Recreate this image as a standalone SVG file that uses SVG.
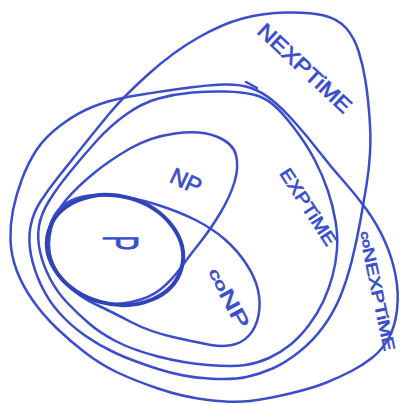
<svg xmlns="http://www.w3.org/2000/svg" width="402" height="405" viewBox="0 0 402 405">
<style>
.c{fill:none;stroke:#3a4ecb;stroke-width:2.5;stroke-linecap:round;stroke-linejoin:round}
.p{stroke-width:4;stroke:#3143b9}
.t{font-family:"Liberation Sans",Arial,sans-serif;fill:#3a4ecb;stroke:#3a4ecb;stroke-width:0.7;text-anchor:middle;dominant-baseline:central}
</style>
<rect width="402" height="405" fill="#fff"/>
<g id="coNEXPTIME">
<path class="c" d="M130,96.5 Q150,93 178.5,89 Q207,85 223.5,84.5 Q240,84 251,88 Q262,92 272,100 Q282,108 294.5,122 Q307,136 319,151.5 Q331,167 343.5,181 Q356,195 366.5,209.5 Q377,224 384.5,240.5 Q392,257 395.5,275 Q399,293 397,310 Q395,327 388.5,338.5 Q382,350 372.5,357.5 Q363,365 351.5,371 Q340,377 326.5,382.5 Q313,388 290,393.5 Q267,399 250,401 Q233,403 208,400 Q183,397 158,388.5 Q133,380 116.5,372 Q100,364 85,352.5 Q70,341 56.5,328 Q43,315 32.5,300 Q22,285 16.5,270 Q11,255 10.5,240 Q10,225 13,210 Q16,195 22,179 Q28,163 36.5,150 Q45,137 61,125 Q77,113 93.5,106.5 Q110,100 130,96.5 Z"/>
<path class="c" d="M246,82 L257,88"/>
<text class="t" font-size="16" transform="translate(377,291) rotate(78)" textLength="122" lengthAdjust="spacingAndGlyphs"><tspan font-size="12">co</tspan>NEXPTiME</text>
</g>
<g id="NEXPTIME">
<path class="c" d="M242.5,18.5 Q263,13 286.5,12.5 Q310,12 324,15.5 Q338,19 346,28 Q354,37 358.5,51 Q363,65 365.5,81 Q368,97 369.5,117 Q371,137 370,153.5 Q369,170 366.5,185 Q364,200 360.5,220 Q357,240 352,260 Q347,280 340.5,296 Q334,312 323.5,326.5 Q313,341 299,352 Q285,363 272.5,368.5 Q260,374 246.5,377 Q233,380 208,378.5 Q183,377 158,369 Q133,361 116.5,353.5 Q100,346 85,335.5 Q70,325 59,312.5 Q48,300 41,285 Q34,270 31,255 Q28,240 30.5,226.5 Q33,213 40.5,201.5 Q48,190 57.5,178 Q67,166 81,148.5 Q95,131 109,114 Q123,97 148,74.5 Q173,52 197.5,38 Q222,24 242.5,18.5 Z"/>
<text class="t" font-size="21" transform="translate(305,68) rotate(43)" textLength="120" lengthAdjust="spacingAndGlyphs">NEXPTiME</text>
</g>
<g id="EXPTIME">
<path class="c" d="M158.5,98.5 Q175,94 192.5,92.5 Q210,91 226,91.5 Q242,92 253,94.5 Q264,97 273,104.5 Q282,112 294.5,128.5 Q307,145 315,160.5 Q323,176 328,191 Q333,206 335.5,221 Q338,236 337,249.5 Q336,263 332.5,276 Q329,289 323.5,301 Q318,313 309,325 Q300,337 290,345 Q280,353 269,358 Q258,363 245.5,365 Q233,367 208,365 Q183,363 158,356.5 Q133,350 116.5,341.5 Q100,333 88.5,323 Q77,313 67,302.5 Q57,292 50,278.5 Q43,265 40,251.5 Q37,238 39,226 Q41,214 49,201 Q57,188 70,172 Q83,156 96.5,141 Q110,126 126,114.5 Q142,103 158.5,98.5 Z"/>
<text class="t" font-size="18" transform="translate(308,207) rotate(57)" textLength="88" lengthAdjust="spacingAndGlyphs">EXPTiME</text>
</g>
<g id="coNP">
<path class="c" d="M77.5,198 Q90,194 111.5,195.5 Q133,197 156.5,204.5 Q180,212 196.5,220.5 Q213,229 225,239.5 Q237,250 246,263.5 Q255,277 258,290 Q261,303 258.5,315.5 Q256,328 249,335.5 Q242,343 232,345 Q222,347 211,345 Q200,343 175,337.5 Q150,332 131,322 Q112,312 96,304.5 Q80,297 68.5,286 Q57,275 52,261.5 Q47,248 48.5,234 Q50,220 57.5,211 Q65,202 77.5,198 Z"/>
<text class="t" font-size="20" transform="translate(229,298) rotate(62)" textLength="66" lengthAdjust="spacingAndGlyphs"><tspan font-size="15">co</tspan>NP</text>
</g>
<g id="NP">
<path class="c" d="M130,148.5 Q150,137 175,133.5 Q200,130 216.5,136.5 Q233,143 236,155 Q239,167 234.5,182 Q230,197 220,213.5 Q210,230 200,242.5 Q190,255 181,267.5 Q172,280 161,289 Q150,298 131.5,302 Q113,306 95.5,300.5 Q78,295 66.5,284 Q55,273 51,259 Q47,245 51,229 Q55,213 66,200 Q77,187 93.5,173.5 Q110,160 130,148.5 Z"/>
<text class="t" font-size="23" transform="translate(186,181) rotate(25)">NP</text>
</g>
<g id="P">
<ellipse class="c p" cx="115" cy="250" rx="69" ry="54" transform="rotate(15 115 250)"/>
<text class="t" font-size="50" stroke-width="0.3" transform="translate(120,243) rotate(90) scale(0.45,1)">P</text>
</g>
</svg>
